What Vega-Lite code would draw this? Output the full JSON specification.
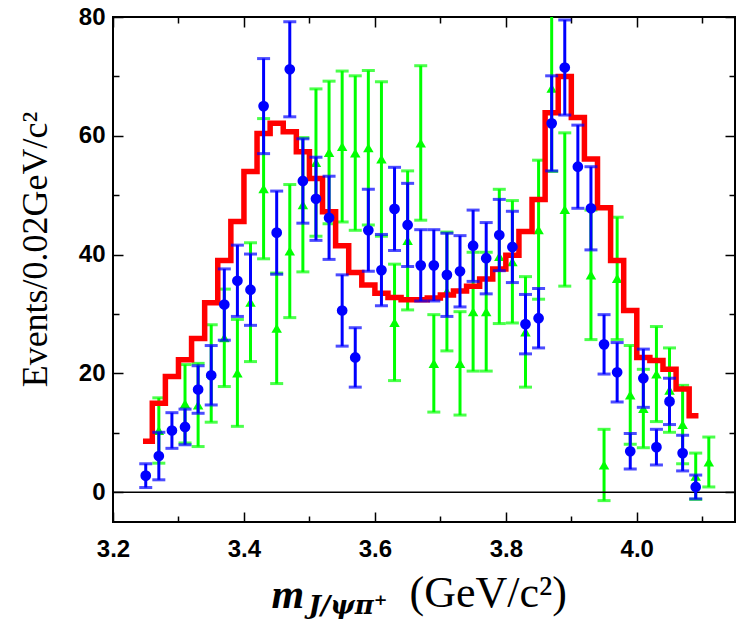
{
  "$schema": "https://vega.github.io/schema/vega-lite/v6.json",
  "width": 622,
  "height": 505,
  "autosize": {"type": "none"},
  "padding": {"left": 113, "top": 17, "right": 13, "bottom": 101},
  "background": "white",
  "config": {
    "view": {"stroke": "black", "strokeWidth": 2},
    "axis": {"grid": false, "domain": false, "tickColor": "black", "tickWidth": 1.5, "labelColor": "black", "titleColor": "black", "labelFlush": false, "labelOverlap": false}
  },
  "datasets": {
    "blue": [
      {"x": 3.25, "v": 2.8, "e": 2.0}, {"x": 3.27, "v": 6.1, "e": 4.0}, {"x": 3.29, "v": 10.4, "e": 3.0},
      {"x": 3.31, "v": 11.0, "e": 3.0}, {"x": 3.33, "v": 17.3, "e": 4.0}, {"x": 3.35, "v": 19.7, "e": 5.0},
      {"x": 3.37, "v": 31.6, "e": 6.0}, {"x": 3.39, "v": 35.6, "e": 6.0}, {"x": 3.41, "v": 34.1, "e": 6.0},
      {"x": 3.43, "v": 65.0, "e": 8.0}, {"x": 3.45, "v": 43.7, "e": 7.0}, {"x": 3.47, "v": 71.2, "e": 8.0},
      {"x": 3.49, "v": 52.4, "e": 7.1}, {"x": 3.51, "v": 49.4, "e": 7.0}, {"x": 3.53, "v": 46.2, "e": 7.0},
      {"x": 3.55, "v": 30.6, "e": 6.0}, {"x": 3.57, "v": 22.7, "e": 5.0}, {"x": 3.59, "v": 44.1, "e": 6.9},
      {"x": 3.61, "v": 37.4, "e": 6.0}, {"x": 3.63, "v": 47.7, "e": 7.0}, {"x": 3.65, "v": 45.0, "e": 7.0},
      {"x": 3.67, "v": 38.2, "e": 6.0}, {"x": 3.69, "v": 38.2, "e": 6.0}, {"x": 3.71, "v": 36.6, "e": 7.0},
      {"x": 3.73, "v": 37.2, "e": 6.0}, {"x": 3.75, "v": 41.5, "e": 6.0}, {"x": 3.77, "v": 39.4, "e": 6.0},
      {"x": 3.79, "v": 43.3, "e": 6.0}, {"x": 3.81, "v": 41.3, "e": 6.0}, {"x": 3.83, "v": 28.3, "e": 5.0},
      {"x": 3.85, "v": 29.3, "e": 5.0}, {"x": 3.87, "v": 62.1, "e": 8.0}, {"x": 3.89, "v": 71.5, "e": 8.0},
      {"x": 3.91, "v": 54.8, "e": 7.0}, {"x": 3.93, "v": 47.8, "e": 7.0}, {"x": 3.95, "v": 24.9, "e": 5.0},
      {"x": 3.97, "v": 20.2, "e": 5.0}, {"x": 3.99, "v": 6.9, "e": 3.0}, {"x": 4.01, "v": 19.2, "e": 4.9},
      {"x": 4.03, "v": 7.6, "e": 3.0}, {"x": 4.05, "v": 15.3, "e": 3.9}, {"x": 4.07, "v": 6.6, "e": 3.0},
      {"x": 4.09, "v": 0.9, "e": 2.0}
    ],
    "green": [
      {"x": 3.27, "v": 10.4, "e": 5.5}, {"x": 3.31, "v": 14.9, "e": 6.6}, {"x": 3.33, "v": 14.7, "e": 7.0},
      {"x": 3.35, "v": 20.0, "e": 8.2}, {"x": 3.37, "v": 26.0, "e": 8.2}, {"x": 3.39, "v": 20.1, "e": 9.0},
      {"x": 3.41, "v": 32.0, "e": 10.0}, {"x": 3.43, "v": 51.1, "e": 11.8}, {"x": 3.45, "v": 27.6, "e": 9.3},
      {"x": 3.47, "v": 40.6, "e": 11.2}, {"x": 3.49, "v": 48.4, "e": 11.3}, {"x": 3.51, "v": 55.5, "e": 12.4},
      {"x": 3.53, "v": 57.2, "e": 12.0}, {"x": 3.55, "v": 58.2, "e": 12.7}, {"x": 3.57, "v": 57.1, "e": 13.0},
      {"x": 3.59, "v": 58.0, "e": 13.0}, {"x": 3.61, "v": 56.1, "e": 13.0}, {"x": 3.63, "v": 28.6, "e": 9.8},
      {"x": 3.65, "v": 42.4, "e": 11.7}, {"x": 3.67, "v": 58.8, "e": 13.0}, {"x": 3.69, "v": 21.7, "e": 8.2},
      {"x": 3.71, "v": 33.8, "e": 10.0}, {"x": 3.73, "v": 21.7, "e": 8.7}, {"x": 3.75, "v": 30.4, "e": 10.0},
      {"x": 3.77, "v": 30.4, "e": 10.0}, {"x": 3.79, "v": 39.7, "e": 11.3}, {"x": 3.81, "v": 38.8, "e": 10.3},
      {"x": 3.83, "v": 27.0, "e": 9.3}, {"x": 3.85, "v": 44.2, "e": 11.7}, {"x": 3.87, "v": 68.0, "e": 14.0},
      {"x": 3.89, "v": 47.6, "e": 12.9}, {"x": 3.93, "v": 36.6, "e": 10.9}, {"x": 3.95, "v": 4.6, "e": 6.0},
      {"x": 3.97, "v": 36.0, "e": 10.3}, {"x": 3.99, "v": 16.4, "e": 8.3}, {"x": 4.01, "v": 14.1, "e": 6.6},
      {"x": 4.03, "v": 19.9, "e": 8.0}, {"x": 4.05, "v": 17.2, "e": 7.1}, {"x": 4.07, "v": 11.4, "e": 6.6},
      {"x": 4.09, "v": 2.7, "e": 3.9}, {"x": 4.11, "v": 5.1, "e": 4.2}
    ],
    "red": [
      {"x": 3.25, "v": 8.6}, {"x": 3.27, "v": 15.0}, {"x": 3.29, "v": 19.5}, {"x": 3.31, "v": 22.3},
      {"x": 3.33, "v": 25.9}, {"x": 3.35, "v": 31.9}, {"x": 3.37, "v": 39.0}, {"x": 3.39, "v": 45.6},
      {"x": 3.41, "v": 54.0}, {"x": 3.43, "v": 60.4}, {"x": 3.45, "v": 62.1}, {"x": 3.47, "v": 60.7},
      {"x": 3.49, "v": 57.3}, {"x": 3.51, "v": 52.8}, {"x": 3.53, "v": 47.2}, {"x": 3.55, "v": 41.5},
      {"x": 3.57, "v": 37.0}, {"x": 3.59, "v": 34.9}, {"x": 3.61, "v": 33.5}, {"x": 3.63, "v": 32.8},
      {"x": 3.65, "v": 32.4}, {"x": 3.67, "v": 32.4}, {"x": 3.69, "v": 32.7}, {"x": 3.71, "v": 33.2},
      {"x": 3.73, "v": 33.9}, {"x": 3.75, "v": 34.7}, {"x": 3.77, "v": 35.9}, {"x": 3.79, "v": 37.6},
      {"x": 3.81, "v": 39.9}, {"x": 3.83, "v": 43.9}, {"x": 3.85, "v": 49.3}, {"x": 3.87, "v": 63.9},
      {"x": 3.89, "v": 70.0}, {"x": 3.91, "v": 63.1}, {"x": 3.93, "v": 56.1}, {"x": 3.95, "v": 47.9},
      {"x": 3.97, "v": 39.0}, {"x": 3.99, "v": 30.6}, {"x": 4.01, "v": 22.7}, {"x": 4.03, "v": 22.2},
      {"x": 4.05, "v": 20.7}, {"x": 4.07, "v": 17.4}, {"x": 4.09, "v": 12.9}
    ],
    "zero": [{"v": 0}]
  },
  "layer": [
    {
      "layer": [
        {
          "data": {"name": "green"},
          "mark": {"type": "point", "shape": "triangle-up", "filled": true, "size": 110, "color": "#00ff00", "opacity": 1},
          "encoding": {
            "x": {"field": "x", "type": "quantitative", "title": "m", "scale": {"domain": [3.2, 4.15], "nice": false, "zero": false},
              "axis": {"orient": "bottom", "values": [3.2, 3.3, 3.4, 3.5, 3.6, 3.7, 3.8, 3.9, 4.0, 4.1],
                "tickSize": {"condition": {"test": "round(datum.value*10) % 2 === 0", "value": -10}, "value": -6},
                "labelExpr": "round(datum.value*10) % 2 === 0 ? format(datum.value, '.1f') : ''",
                "labelPadding": 25, "labelFont": "Liberation Sans", "labelFontWeight": "bold", "labelFontSize": 24,
                "titleFont": "Liberation Serif", "titleFontStyle": "italic", "titleFontWeight": "bold", "titleFontSize": 42,
                "titleX": 158, "titleY": 85, "titleAlign": "left", "titleBaseline": "alphabetic"}},
            "y": {"field": "v", "type": "quantitative", "title": "Events/0.02GeV/c²", "scale": {"domain": [-5, 80], "nice": false},
              "axis": {"orient": "left", "values": [0, 10, 20, 30, 40, 50, 60, 70, 80],
                "tickSize": {"condition": {"test": "datum.value % 20 === 0", "value": -10}, "value": -6},
                "labelExpr": "datum.value % 20 === 0 ? datum.label : ''",
                "labelPadding": 18, "labelFont": "Liberation Sans", "labelFontWeight": "bold", "labelFontSize": 24,
                "titleFont": "Liberation Serif", "titleFontWeight": "normal", "titleFontSize": 36,
                "titleAngle": 270, "titleX": -67, "titleY": 232, "titleAlign": "center", "titleBaseline": "alphabetic"}}
          }
        },
        {
          "data": {"name": "green"},
          "mark": {"type": "errorbar", "color": "#00ff00", "clip": true, "thickness": 3, "size": 13, "ticks": {"color": "#00ff00", "thickness": 3, "size": 13}, "rule": {"color": "#00ff00", "strokeWidth": 3}},
          "encoding": {
            "x": {"field": "x", "type": "quantitative", "title": "m"},
            "y": {"field": "v", "type": "quantitative", "title": "Events/0.02GeV/c²"},
            "yError": {"field": "e"}
          }
        },
        {
          "data": {"name": "zero"},
          "mark": {"type": "rule", "color": "black", "strokeWidth": 1.5},
          "encoding": {"y": {"field": "v", "type": "quantitative", "title": "Events/0.02GeV/c²"}}
        },
        {
          "data": {"name": "red"},
          "mark": {"type": "line", "interpolate": "step", "color": "#ff0000", "strokeWidth": 5.5, "strokeCap": "square", "strokeJoin": "miter"},
          "encoding": {
            "x": {"field": "x", "type": "quantitative", "title": "m"},
            "y": {"field": "v", "type": "quantitative", "title": "Events/0.02GeV/c²"}
          }
        },
        {
          "data": {"name": "blue"},
          "mark": {"type": "errorbar", "color": "#0000ff", "clip": true, "thickness": 3, "size": 13, "ticks": {"color": "#0000ff", "thickness": 3, "size": 13}, "rule": {"color": "#0000ff", "strokeWidth": 3}},
          "encoding": {
            "x": {"field": "x", "type": "quantitative", "title": "m"},
            "y": {"field": "v", "type": "quantitative", "title": "Events/0.02GeV/c²"},
            "yError": {"field": "e"}
          }
        }
      ]
    },
    {
      "data": {"name": "blue"},
      "mark": {"type": "point", "shape": "circle", "filled": true, "size": 115, "color": "#0000ff", "opacity": 1},
      "encoding": {
        "x": {"field": "x", "type": "quantitative", "scale": {"domain": [3.2, 4.15], "nice": false, "zero": false},
          "axis": {"orient": "top", "values": [3.2, 3.3, 3.4, 3.5, 3.6, 3.7, 3.8, 3.9, 4.0, 4.1], "labels": false,
            "tickSize": {"condition": {"test": "round(datum.value*10) % 2 === 0", "value": -10}, "value": -6},
            "title": "J/ψπ⁺", "titleFont": "DejaVu Serif", "titleFontStyle": "italic", "titleFontWeight": "bold", "titleFontSize": 26,
            "titleX": 195, "titleY": 596, "titleAlign": "left", "titleBaseline": "alphabetic"}},
        "y": {"field": "v", "type": "quantitative", "scale": {"domain": [-5, 80], "nice": false},
          "axis": {"orient": "right", "values": [0, 10, 20, 30, 40, 50, 60, 70, 80], "labels": false,
            "tickSize": {"condition": {"test": "datum.value % 20 === 0", "value": -10}, "value": -6},
            "title": "(GeV/c²)", "titleFont": "Liberation Serif", "titleFontWeight": "normal", "titleFontSize": 44,
            "titleAngle": 0, "titleX": -326, "titleY": 589, "titleAlign": "left", "titleBaseline": "alphabetic"}}
      }
    }
  ],
  "resolve": {"axis": {"x": "independent", "y": "independent"}}
}
